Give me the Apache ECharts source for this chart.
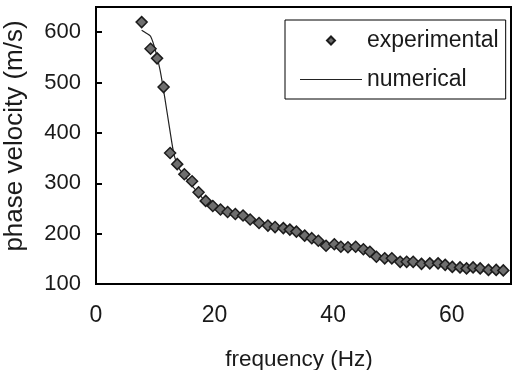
<!DOCTYPE html>
<html>
<head>
<meta charset="utf-8">
<script src="https://cdn.jsdelivr.net/npm/echarts@6/dist/echarts.min.js"></script>
<style>
html,body{margin:0;padding:0;background:#fff;}
#chart{width:512px;height:370px;}
</style>
</head>
<body>
<div id="chart"></div>
<script>
const expFreq = [7.7, 9.2, 10.3, 11.4, 12.5, 13.7, 14.9, 16.2, 17.3, 18.5, 19.7, 21.0, 22.2, 23.5, 24.8, 26.0, 27.5, 29.0, 30.2, 31.6, 32.7, 33.8, 35.2, 36.4, 37.5, 38.8, 40.2, 41.3, 42.5, 43.8, 45.1, 46.2, 47.3, 48.7, 49.9, 51.3, 52.4, 53.5, 54.9, 56.3, 57.7, 58.9, 60.1, 61.4, 62.5, 63.6, 64.8, 66.2, 67.5, 68.7];
const expVel = [620, 567, 548, 491, 360, 338, 318, 304, 282, 265, 255, 248, 243, 239, 236, 228, 221, 216, 213, 211, 208, 204, 196, 191, 186, 176, 179, 174, 173, 174, 169, 164, 154, 151, 151, 144, 144, 144, 140, 141, 141, 138, 134, 133, 131, 133, 131, 128, 128, 127];
const numFreq = [7.7, 8.5, 9.2, 10.0, 10.8, 11.6, 12.4, 13.2, 14.0, 15.0, 16.0, 17.0, 18.0, 19.0, 20.0, 22.0, 24.0, 26.0, 28.0, 30.0, 32.0, 34.0, 36.0, 38.0, 40.0, 42.0, 44.0, 46.0, 48.0, 50.0, 52.0, 54.0, 56.0, 58.0, 60.0, 62.0, 64.0, 66.0, 68.0, 69.0];
const numVel = [604, 598, 592, 565, 525, 470, 410, 355, 330, 314, 298, 284, 270, 258, 252, 244, 237, 228, 219, 213, 209, 203, 193, 185, 178, 174, 172, 164, 153, 149, 144, 142, 140, 139, 134, 132, 131, 129, 127, 126];
const xTicks = [0, 20, 40, 60];
const yTicks = [100, 200, 300, 400, 500, 600];
const seriesNames = ['experimental', 'numerical'];

const FONT = 'Liberation Sans, Arial, sans-serif';
const chart = echarts.init(document.getElementById('chart'), null, {renderer: 'canvas'});
chart.setOption({
  animation: false,
  backgroundColor: '#fff',
  grid: {left: 96, right: 1, top: 7, bottom: 86, containLabel: false, outerBoundsMode: 'none',
    show: true, borderColor: '#000', borderWidth: 2, backgroundColor: 'transparent'},
  xAxis: {
    type: 'value', min: 0, max: 70, interval: 20,
    name: 'frequency (Hz)', nameLocation: 'middle', nameGap: 64,
    nameTextStyle: {fontFamily: FONT, fontSize: 22.5, color: '#1a1a1a', padding: [0, 9, 0, 0]},
    axisLine: {show: true, lineStyle: {color: '#000', width: 2}},
    axisTick: {show: false},
    splitLine: {show: false},
    axisLabel: {fontFamily: FONT, fontSize: 23, color: '#1a1a1a', margin: 20, showMaxLabel: false,
      formatter: v => xTicks.indexOf(v) >= 0 ? String(v) : ''}
  },
  yAxis: {
    type: 'value', min: 100, max: 650, interval: 100,
    name: 'phase velocity (m/s)', nameLocation: 'middle', nameGap: 68,
    nameTextStyle: {fontFamily: FONT, fontSize: 26, color: '#1a1a1a', padding: [0, 0, 0, 19]},
    axisLine: {show: true, lineStyle: {color: '#000', width: 2}},
    axisTick: {show: true, inside: true, length: 6, lineStyle: {color: '#000', width: 2}},
    splitLine: {show: false},
    axisLabel: {fontFamily: FONT, fontSize: 22, color: '#1a1a1a', margin: 15, showMaxLabel: false,
      formatter: v => yTicks.indexOf(v) >= 0 ? String(v) : ''}
  },
  legend: {
    orient: 'vertical', left: 285, top: 20,
    padding: [9, 7, 8, 15], itemGap: 16,
    itemWidth: 62, itemHeight: 8,
    symbolKeepAspect: true,
    backgroundColor: '#fff', borderColor: '#000', borderWidth: 1,
    textStyle: {fontFamily: FONT, fontSize: 23, color: '#1a1a1a', lineHeight: 22},
    data: [
      {name: seriesNames[0], icon: 'path://M5,0L10,5L5,10L0,5Z'},
      {name: seriesNames[1], icon: 'path://M0,0H62V1H0Z'}
    ]
  },
  series: [
    {
      name: seriesNames[1], type: 'line', symbol: 'none', smooth: 0.3,
      data: numFreq.map((f, i) => [f, numVel[i]]),
      lineStyle: {color: '#222', width: 1.2},
      itemStyle: {color: '#222'},
      z: 2
    },
    {
      name: seriesNames[0], type: 'scatter', symbol: 'diamond', symbolSize: 11,
      data: expFreq.map((f, i) => [f, expVel[i]]),
      itemStyle: {color: '#6e6e6e', borderColor: '#1c1c1c', borderWidth: 1.5, opacity: 1},
      z: 3
    }
  ]
});
</script>
</body>
</html>
